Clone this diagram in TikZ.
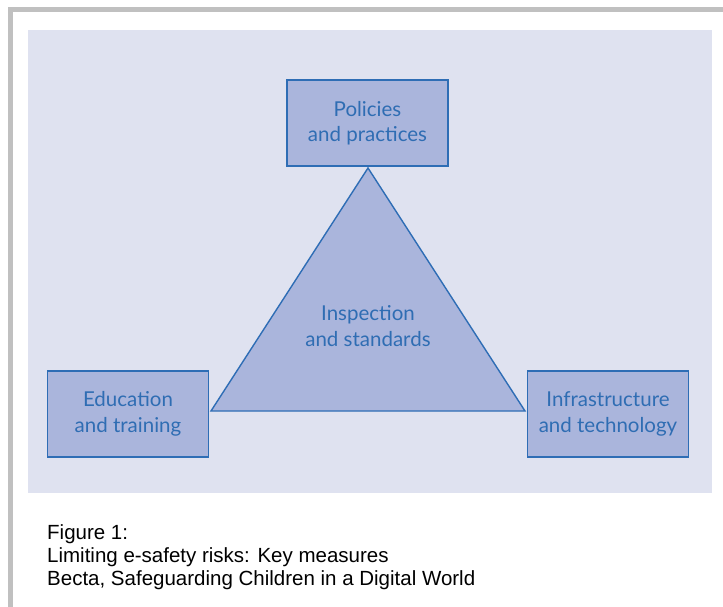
\documentclass[tikz,border=0pt]{standalone}
\usepackage{fontspec}
\setmainfont{Liberation Sans}
\newfontfamily\boxfont{Lato}
\definecolor{panel}{HTML}{DFE2F0}
\definecolor{boxfill}{HTML}{AAB5DC}
\definecolor{boxline}{HTML}{2E6DB5}
\definecolor{boxtext}{HTML}{2F6DB3}
\definecolor{frame}{HTML}{C0C0C0}
\begin{document}
\begin{tikzpicture}[x=1pt,y=-1pt,
  measure/.style={draw=boxline, fill=boxfill, line width=1.4pt, minimum width=161pt, minimum height=86pt,
    align=center, text=boxtext, font=\boxfont\fontsize{20.5}{25.5}\selectfont, inner sep=0pt},
  caption/.style={anchor=north west, align=left, font=\fontsize{20.5}{23}\selectfont, inner sep=0pt}]
\useasboundingbox (0,0) rectangle (723,607);
\fill[white] (0,0) rectangle (723,607);
% grey frame
\fill[frame] (8,7) rectangle (723,12);
\fill[frame] (8,7) rectangle (13,607);
% panel
\fill[panel] (28,30) rectangle (712,493);
% triangle
\coordinate (apex) at (368,168);
\coordinate (bl) at (211,411);
\coordinate (br) at (525,411);
\draw[draw=boxline, fill=boxfill, line width=1.4pt, line join=miter] (apex) -- (bl) -- (br) -- cycle;
\node[align=center, text=boxtext, font=\boxfont\fontsize{20.5}{25.5}\selectfont, inner sep=0pt] (insp) at (368,326) {Inspection\\and standards};
% boxes
\node[measure] (pol) at (367.5,123) {Policies\\and practices};
\node[measure] (edu) at (128,414) {Education\\and training};
\node[measure] (inf) at (608,414) {Infrastructure\\and technology};
% caption
\node[caption] (cap) at (47,524) {Figure 1:\\Limiting e-safety risks: Key measures\\Becta, Safeguarding Children in a Digital World};
\end{tikzpicture}
\end{document}
